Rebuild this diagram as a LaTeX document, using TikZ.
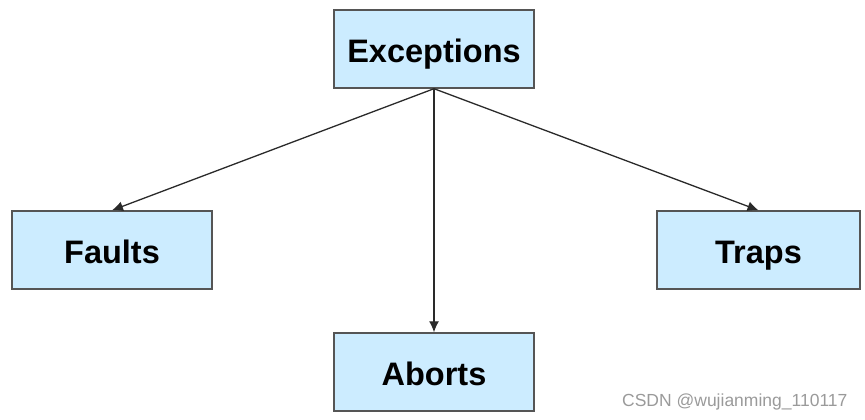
\documentclass[tikz,border=0pt]{standalone}
\usepackage{fontspec}
\setmainfont{Liberation Sans}
\usepackage{tikz}
\usetikzlibrary{arrows.meta}

\definecolor{boxfill}{HTML}{CCECFF}
\definecolor{boxline}{HTML}{555555}
\definecolor{arrowline}{HTML}{2A2A2A}
\definecolor{markgray}{HTML}{9A9A9A}

\tikzset{
  kindbox/.style={draw=boxline, line width=1.4pt, fill=boxfill, minimum width=200pt,
    minimum height=78pt, inner sep=0pt, text height=30pt, text depth=2pt,
    font=\fontsize{32.5}{36}\selectfont\bfseries},
  branch/.style={draw=arrowline, line width=1.3pt, -{Latex[length=11pt,width=10pt]}}
}

\begin{document}
\begin{tikzpicture}[x=1pt,y=1pt]

\useasboundingbox (0,0) rectangle (865,420) ;

\node [kindbox] (exc) at (434,371) {Exceptions} ;
\node [kindbox] (faults) at (112,170) {Faults} ;
\node [kindbox, minimum width=203pt] (traps) at (758.5,170) {Traps} ;
\node [kindbox] (aborts) at (434,48) {Aborts} ;

\draw [branch] (exc.south) -- (faults.north) ;
\draw [branch] (exc.south) -- (traps.north) ;
\draw [branch] (exc.south) -- (aborts.north) ;

\node [anchor=east, text=markgray, font=\fontsize{17.5}{20}\selectfont] (mark) at (851,18) {CSDN @wujianming\_110117} ;

\end{tikzpicture}
\end{document}
